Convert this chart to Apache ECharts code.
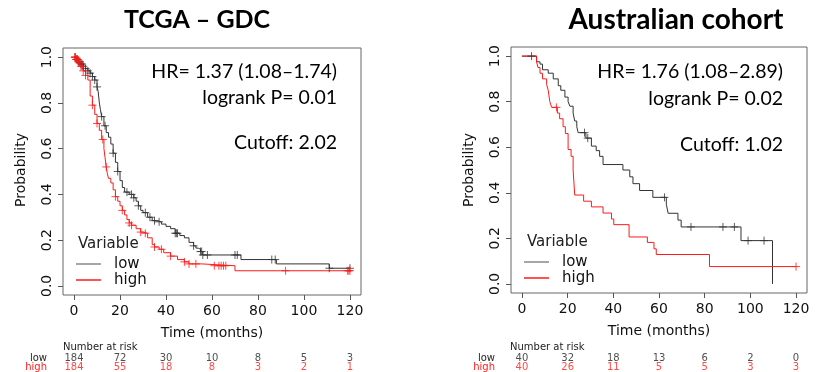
<!DOCTYPE html>
<html>
<head>
<meta charset="utf-8">
<script src="https://cdn.jsdelivr.net/npm/echarts@6/dist/echarts.min.js"></script>
<style>html,body{margin:0;padding:0;background:#fff;}#c{width:819px;height:372px;}</style>
</head>
<body>
<div id="c"></div>
<script>
// ---------- data ----------
const tickTimes = [0, 20, 40, 60, 80, 100, 120];
const probTicks = [0, 0.2, 0.4, 0.6, 0.8, 1.0];

// TCGA – GDC : Kaplan–Meier steps (time in months, survival probability)
const tcgaLowT = [0,1,2,3,4,5,6,7,8,9,10,10.5,11,11.5,12,13,14,15,16,17,18,19,20,21,22,24,26,27,28,29,30,32,34,36,38,40,42,44,46,48,50,52,53,54,55,56,72.6,88,111,120];
const tcgaLowS = [1,0.99,0.98,0.97,0.96,0.95,0.94,0.93,0.915,0.9,0.87,0.85,0.8,0.77,0.74,0.7,0.67,0.65,0.62,0.58,0.54,0.5,0.46,0.43,0.41,0.4,0.385,0.37,0.35,0.33,0.32,0.3,0.285,0.28,0.27,0.26,0.25,0.23,0.22,0.21,0.19,0.175,0.165,0.16,0.15,0.135,0.115,0.096,0.077,0.077];
const tcgaHighT = [0,1,2,3,4,5,6,7,8,9,10,11,12,13,13.5,14,14.5,15,16,17,18,19,20,21,22,23,24,25,27,29,30,32,34,35,37,39,42,45,48,50,55.5,70,120];
const tcgaHighS = [1,0.99,0.98,0.96,0.94,0.92,0.9,0.83,0.79,0.75,0.71,0.68,0.64,0.6,0.56,0.52,0.49,0.47,0.45,0.42,0.39,0.37,0.35,0.33,0.31,0.29,0.275,0.265,0.25,0.235,0.23,0.21,0.18,0.17,0.16,0.145,0.13,0.115,0.105,0.096,0.088,0.066,0.066];
const tcgaLowCens = [0.5,1,1.5,2,2.5,3,3.5,4,5,6,7,8,9,10,12,13.5,17,19,23,25,26,28,31,33,35,37,44,44.5,45,52,55,55.5,56,58,70,71,86,87.5,111,120];
const tcgaHighCens = [0.3,0.6,1,1.3,1.6,2,2.5,3,3.5,4,5,8,10,12.5,14,18,21,24,25,29,31,35,38,42,48,50,53,61,63,64,65,66,92,119,119.5,120];
const tcgaRiskLow = [184, 72, 30, 10, 8, 5, 3];
const tcgaRiskHigh = [184, 55, 18, 8, 3, 2, 1];

// Australian cohort
const ausLowT = [0,6.4,7.9,9,11.5,13.7,15.9,17,18.8,20.2,21,22.4,23.1,24,24.6,28,30.4,32.5,34,35.5,44.2,47.2,48.6,51.5,57.3,63.2,64,68.3,69.7,95.9,109.7];
const ausLowS = [1,0.975,0.965,0.94,0.925,0.9,0.87,0.85,0.82,0.8,0.78,0.75,0.715,0.69,0.664,0.64,0.605,0.585,0.56,0.524,0.5,0.47,0.44,0.41,0.38,0.35,0.31,0.28,0.25,0.19,0];
const ausHighT = [0,6.4,7,7.9,9,10.8,11.5,12.2,13,15.5,16.5,18,19,20.2,21.5,22.4,23.1,27,30.4,35.5,39.2,40.2,46.9,54.9,57.8,58.8,82.1,120];
const ausHighS = [1,0.975,0.95,0.925,0.9,0.875,0.85,0.8,0.775,0.75,0.725,0.69,0.66,0.59,0.56,0.5,0.39,0.363,0.338,0.311,0.285,0.26,0.206,0.182,0.154,0.129,0.076,0.076];
const ausLowCens = [4.2, 27.4, 28.8, 62.4, 74, 88, 93, 99, 106];
const ausHighCens = [15.1, 120];
const ausRiskLow = [40, 32, 18, 13, 6, 2, 0];
const ausRiskHigh = [40, 26, 11, 5, 5, 3, 3];

// ---------- helpers ----------
const zip = (t, s) => t.map((x, i) => [x, s[i]]);
const survAt = (T, S, t) => { let v = S[0]; for (let i = 0; i < T.length; i++) { if (T[i] <= t) v = S[i]; } return v; };
const cens = (T, S, C) => C.map(t => [t, survAt(T, S, t)]);
const riskData = (row, vals) => tickTimes.map((t, i) => [t, row, vals[i]]);

const BLACK = '#333333', RED = '#ff1a1a';
const PLUS = 'path://M5,0L5,10M0,5L10,5';
const rFont = 'DejaVu Sans';
const cFont = 'Lato';

function mainX(gi) {
  return {
    type: 'value', gridIndex: gi, min: -4.8, max: 124.8,
    axisLine: { show: false, onZero: false }, splitLine: { show: false },
    axisTick: { show: true, customValues: tickTimes, length: 5, lineStyle: { color: '#555' } },
    axisLabel: { customValues: tickTimes, hideOverlap: false, fontFamily: rFont, fontSize: 14, color: '#111', margin: 9 },
    name: 'Time (months)', nameLocation: 'middle', nameGap: 31,
    nameTextStyle: { fontFamily: rFont, fontSize: 14, color: '#111' }
  };
}
function mainY(gi) {
  return {
    type: 'value', gridIndex: gi, min: -0.04, max: 1.04,
    axisLine: { show: false, onZero: false }, splitLine: { show: false },
    axisTick: { show: true, customValues: probTicks, length: 5, lineStyle: { color: '#555' } },
    axisLabel: { customValues: probTicks, hideOverlap: false, showMinLabel: true, showMaxLabel: true,
      rotate: 90, formatter: v => v.toFixed(1), fontFamily: rFont, fontSize: 14, color: '#111', margin: 9 }
  };
}
function riskX(gi) {
  return { type: 'value', gridIndex: gi, min: -4.8, max: 124.8, show: false };
}
function riskY(gi) {
  return {
    type: 'category', gridIndex: gi, data: ['low', 'high'], inverse: true,
    axisLine: { show: false, onZero: false }, axisTick: { show: false }, splitLine: { show: false },
    axisLabel: { interval: 0, hideOverlap: false, fontFamily: rFont, fontSize: 10, margin: 16, color: (v) => v === 'high' ? RED : '#222' }
  };
}
function kmLine(name, xi, data, color) {
  return { name, type: 'line', xAxisIndex: xi, yAxisIndex: xi, data, step: 'end', showSymbol: false,
    lineStyle: { width: 1, color }, itemStyle: { color }, silent: true, z: 3 };
}
function censor(xi, data, color) {
  return { name: 'censor', type: 'scatter', xAxisIndex: xi, yAxisIndex: xi, data, symbol: PLUS, symbolSize: 8,
    itemStyle: { color: 'transparent', borderColor: color, borderWidth: 1 }, silent: true, z: 4 };
}
function risk(xi, data, color) {
  return { name: 'risk', type: 'scatter', xAxisIndex: xi, yAxisIndex: xi, data, symbolSize: 1,
    itemStyle: { color: 'transparent' }, silent: true,
    label: { show: true, position: 'inside', formatter: p => String(p.value[2]), fontFamily: rFont, fontSize: 10, color } };
}
function legend(left, top) {
  return { left, top, padding: 0, orient: 'vertical', icon: 'rect', itemWidth: 25, itemHeight: 1.5, itemGap: 0,
    selectedMode: false,
    textStyle: { fontFamily: rFont, fontSize: 15, color: '#111', lineHeight: 16, padding: [0, 0, 0, 8] },
    data: [{ name: 'low', itemStyle: { color: '#888' } }, { name: 'high', itemStyle: { color: RED } }] };
}
function txt(x, y, text, size, align, weight) {
  return { type: 'text', x, y, style: { text, fontFamily: cFont, fontSize: size, fontWeight: weight || 'normal', fill: '#000', align: align, verticalAlign: 'middle' } };
}
function rtxt(x, y, text, size) {
  return { type: 'text', x, y, style: { text, fontFamily: rFont, fontSize: size, fill: '#222', align: 'left', verticalAlign: 'middle' } };
}
function vtxt(x, y, text) {
  return { type: 'text', x, y, rotation: Math.PI / 2, style: { text, fontFamily: rFont, fontSize: 14, fill: '#111', align: 'center', verticalAlign: 'middle' } };
}

const option = {
  animation: false,
  backgroundColor: '#fff',
  grid: [
    { left: 63, top: 48, width: 298, height: 247, show: true, borderColor: '#666', borderWidth: 1, backgroundColor: 'transparent' },
    { left: 511, top: 47, width: 296, height: 246, show: true, borderColor: '#666', borderWidth: 1, backgroundColor: 'transparent' },
    { left: 63, top: 354, width: 298, height: 20 },
    { left: 511, top: 354, width: 296, height: 20 }
  ],
  xAxis: [mainX(0), mainX(1), riskX(2), riskX(3)],
  yAxis: [mainY(0), mainY(1), riskY(2), riskY(3)],
  legend: [legend(76, 256), legend(524, 254)],
  series: [
    kmLine('low', 0, zip(tcgaLowT, tcgaLowS), BLACK),
    kmLine('high', 0, zip(tcgaHighT, tcgaHighS), RED),
    censor(0, cens(tcgaLowT, tcgaLowS, tcgaLowCens), BLACK),
    censor(0, cens(tcgaHighT, tcgaHighS, tcgaHighCens), RED),
    kmLine('low', 1, zip(ausLowT, ausLowS), BLACK),
    kmLine('high', 1, zip(ausHighT, ausHighS), RED),
    censor(1, cens(ausLowT, ausLowS, ausLowCens), BLACK),
    censor(1, cens(ausHighT, ausHighS, ausHighCens), RED),
    risk(2, riskData('low', tcgaRiskLow), '#222'),
    risk(2, riskData('high', tcgaRiskHigh), RED),
    risk(3, riskData('low', ausRiskLow), '#222'),
    risk(3, riskData('high', ausRiskHigh), RED)
  ],
  graphic: [
    txt(197, 20, 'TCGA – GDC', 25, 'center', 'bold'),
    txt(676, 20, 'Australian cohort', 28, 'center', 'bold'),
    txt(337, 72, 'HR= 1.37 (1.08–1.74)', 19.5, 'right'),
    txt(337, 98, 'logrank P= 0.01', 19.5, 'right'),
    txt(337, 143, 'Cutoff: 2.02', 19.5, 'right'),
    txt(783, 72, 'HR= 1.76 (1.08–2.89)', 19.5, 'right'),
    txt(783, 99, 'logrank P= 0.02', 19.5, 'right'),
    txt(783, 145, 'Cutoff: 1.02', 19.5, 'right'),
    rtxt(78, 244, 'Variable', 15),
    rtxt(527, 242, 'Variable', 15),
    rtxt(63, 347, 'Number at risk', 10),
    rtxt(510, 347, 'Number at risk', 10),
    vtxt(21, 170, 'Probability'),
    vtxt(469, 170, 'Probability')
  ]
};
const chart = echarts.init(document.getElementById('c'), null, { renderer: 'canvas' });
chart.setOption(option);
</script>
</body>
</html>
